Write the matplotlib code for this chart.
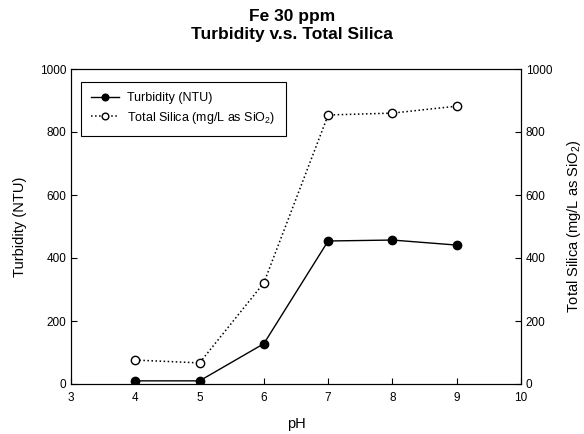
import matplotlib
matplotlib.use("Agg")
import matplotlib.pyplot as plt
from matplotlib.lines import Line2D

plt.rcParams['font.family'] = ['Liberation Sans', 'DejaVu Sans']
plt.rcParams['mathtext.fontset'] = 'custom'
plt.rcParams['mathtext.rm'] = 'Liberation Sans'

ph = [4, 5, 6, 7, 8, 9]
turbidity = [10, 10, 128, 454, 457, 441]
silica = [76, 67, 321, 854, 860, 882]

fig = plt.figure(figsize=(5.84, 4.34), dpi=100)
ax = fig.add_axes([71/584, 1-384/434, 450/584, 315/434])
ax2 = ax.twinx()

ax.plot(ph, turbidity, '-', color='black', lw=1, marker='o', ms=6,
        mfc='black', mec='black', label='Turbidity (NTU)')
ax2.plot(ph, silica, ':', color='black', lw=1.1, marker='o', ms=6,
         mfc='white', mec='black', label='Total Silica (mg/L as SiO$_2$)')

ax.set_xlim(3, 10)
ax.set_ylim(0, 1000)
ax2.set_ylim(0, 1000)
ax.set_xticks(range(3, 11))
ax.set_yticks(range(0, 1001, 200))
ax2.set_yticks(range(0, 1001, 200))
for a in (ax, ax2):
    a.tick_params(direction='in', labelsize=8.5, length=4, width=0.8)
    for s in a.spines.values():
        s.set_linewidth(0.8)
ax.tick_params(axis='x', pad=6)

ax.set_xlabel('pH', fontsize=10.5, labelpad=9)
ax.set_ylabel('Turbidity (NTU)', fontsize=10.5, labelpad=9)
ax2.set_ylabel('Total Silica (mg/L as SiO$_2$)', fontsize=10.5, labelpad=9)

fig.text(0.5, 1-16/434, 'Fe 30 ppm', ha='center', va='center', fontsize=12.5, fontweight='bold')
fig.text(0.5, 1-35/434, 'Turbidity v.s. Total Silica', ha='center', va='center', fontsize=12.5, fontweight='bold')

h1 = Line2D([], [], color='black', lw=1, marker='o', ms=4.8, mfc='black', mec='black')
h2 = Line2D([], [], color='black', lw=1.1, ls=':', marker='o', ms=4.8, mfc='white', mec='black')
leg = ax.legend([h1, h2], ['Turbidity (NTU)', 'Total Silica (mg/L as SiO$_2$)'],
                loc='upper left', bbox_to_anchor=(10/450, 1-13/315), borderaxespad=0,
                fontsize=9, fancybox=False, edgecolor='black', framealpha=1,
                handlelength=2.2, handletextpad=0.7, borderpad=0.8, labelspacing=0.45)
leg.get_frame().set_linewidth(0.8)

fig.savefig('out.png', dpi=100)
